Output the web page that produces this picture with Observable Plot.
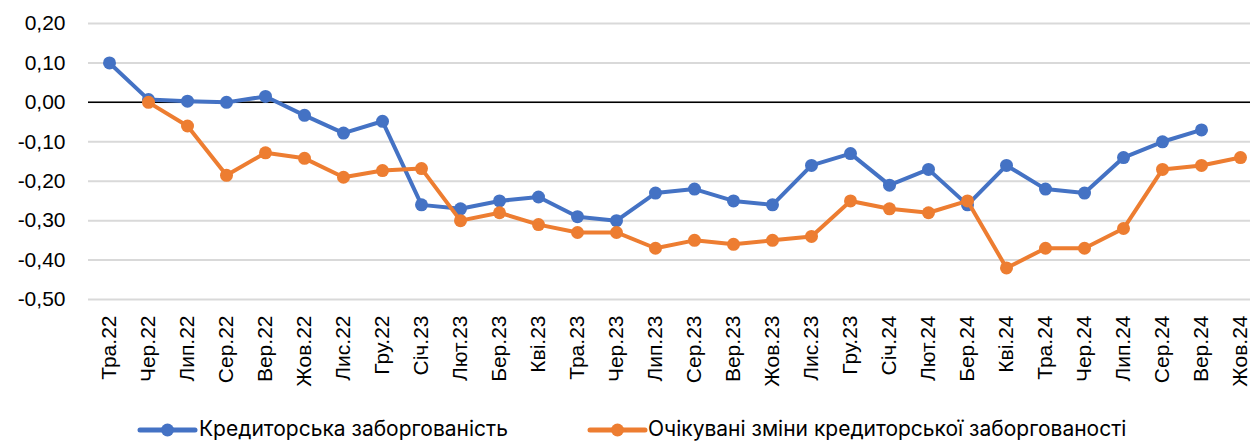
<!DOCTYPE html>
<html>
<head>
<meta charset="utf-8">
<script src="https://cdn.jsdelivr.net/npm/d3@7"></script>
<script src="https://cdn.jsdelivr.net/npm/@observablehq/plot@0.6"></script>
<style>
  html, body { margin: 0; padding: 0; background: #fff; overflow: hidden; }
  #wrap { width: 1250px; height: 441px; overflow: hidden; position: relative; }
  #legend { display: block; width: 1250px; height: 36px; overflow: hidden; }
  #chart svg { display: block; }
</style>
</head>
<body>
<div id="wrap">
  <div id="chart"></div>
  <svg id="legend" width="1250" height="36"></svg>
</div>
<script>
const months = ["Тра.22","Чер.22","Лип.22","Сер.22","Вер.22","Жов.22","Лис.22","Гру.22",
  "Січ.23","Лют.23","Бер.23","Кві.23","Тра.23","Чер.23","Лип.23","Сер.23","Вер.23","Жов.23","Лис.23","Гру.23",
  "Січ.24","Лют.24","Бер.24","Кві.24","Тра.24","Чер.24","Лип.24","Сер.24","Вер.24","Жов.24"];

const payables = [0.10, 0.007, 0.003, 0.00, 0.015, -0.033, -0.078, -0.048,
  -0.26, -0.27, -0.25, -0.24, -0.29, -0.30, -0.23, -0.22, -0.25, -0.26, -0.16, -0.13,
  -0.21, -0.17, -0.26, -0.16, -0.22, -0.23, -0.14, -0.10, -0.07, null];

const expected = [null, 0.00, -0.06, -0.185, -0.128, -0.142, -0.19, -0.173,
  -0.168, -0.30, -0.28, -0.31, -0.33, -0.33, -0.37, -0.35, -0.36, -0.35, -0.34, -0.25,
  -0.27, -0.28, -0.25, -0.42, -0.37, -0.37, -0.32, -0.17, -0.16, -0.14];

const seriesNames = ["Кредиторська заборгованість", "Очікувані зміни кредиторської заборгованості"];
const seriesColors = ["#4472C4", "#ED7D31"];
const yTicks = [0.2, 0.1, 0, -0.1, -0.2, -0.3, -0.4, -0.5];

const blue = months.map((m, i) => ({m, v: payables[i]})).filter(d => d.v != null);
const orange = months.map((m, i) => ({m, v: expected[i]})).filter(d => d.v != null);

const fmt = d => d.toFixed(2).replace(".", ",");

const chart = Plot.plot({
  width: 1250,
  height: 405,
  marginLeft: 88,
  marginRight: 0,
  marginTop: 23,
  marginBottom: 106,
  style: {fontFamily: "'Liberation Sans', Arial, sans-serif", fontSize: "21px", color: "#000", background: "#fff"},
  x: {type: "point", domain: months, range: [88, 1260]},
  y: {domain: [-0.5, 0.2], ticks: yTicks},
  marks: [
    Plot.gridY(yTicks, {stroke: "#d9d9d9", strokeOpacity: 1, strokeWidth: 2}),
    Plot.ruleY([0], {stroke: "#000", strokeWidth: 1.5}),
    Plot.axisY(yTicks, {tickSize: 0, tickPadding: 23, tickFormat: fmt, fontSize: 21, label: null}),
    Plot.axisX({tickSize: 0, tickPadding: 16, tickRotate: -90, fontSize: 21, label: null}),
    Plot.line(blue, {x: "m", y: "v", stroke: seriesColors[0], strokeWidth: 4}),
    Plot.dot(blue, {x: "m", y: "v", fill: seriesColors[0], r: 6.5}),
    Plot.line(orange, {x: "m", y: "v", stroke: seriesColors[1], strokeWidth: 4}),
    Plot.dot(orange, {x: "m", y: "v", fill: seriesColors[1], r: 6.5})
  ]
});
document.getElementById("chart").appendChild(chart);

// legend
const leg = d3.select("#legend");
const items = [{x0: 140, x1: 195, tx: 199}, {x0: 590, x1: 645, tx: 648}];
items.forEach((it, i) => {
  leg.append("line").attr("x1", it.x0).attr("x2", it.x1).attr("y1", 25).attr("y2", 25)
    .attr("stroke", seriesColors[i]).attr("stroke-width", 5).attr("stroke-linecap", "round");
  leg.append("circle").attr("cx", (it.x0 + it.x1) / 2).attr("cy", 25).attr("r", 6.5).attr("fill", seriesColors[i]);
  leg.append("text").attr("x", it.tx).attr("y", 31).text(seriesNames[i])
    .attr("font-family", "Inter, Roboto, sans-serif").attr("font-size", 21).attr("fill", "#000");
});
</script>
</body>
</html>
